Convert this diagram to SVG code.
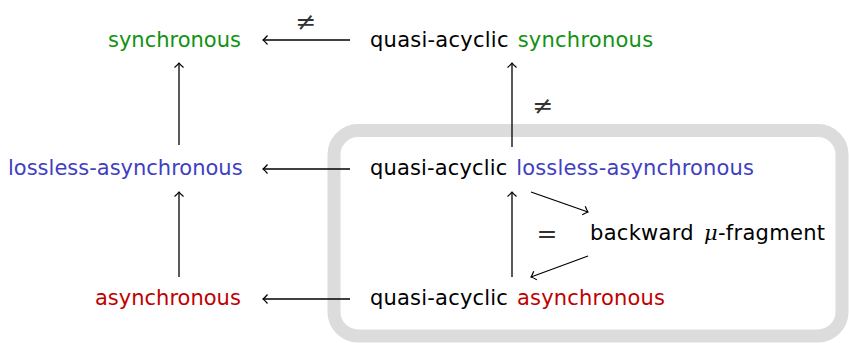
<svg xmlns="http://www.w3.org/2000/svg" width="849" height="343" viewBox="0 0 849 343">
<defs>
<style>
text{font-family:"DejaVu Sans","Liberation Sans",sans-serif;font-size:21px;fill:#000}
.g{fill:#129112}
.b{fill:#4040bf}
.r{fill:#c00000}
.m{font-family:"DejaVu Serif","Liberation Serif",serif;font-size:25px;fill:#333}
.e{stroke:#000;stroke-width:1.3;fill:none;marker-end:url(#ah)}
</style>
<marker id="ah" markerWidth="12" markerHeight="12" viewBox="-6 -6 12 12" refX="0" refY="0" orient="auto" markerUnits="userSpaceOnUse">
<path d="M-4.5,-4.5 Q-1.5,-1 0,0 Q-1.5,1 -4.5,4.5" fill="none" stroke="#000" stroke-width="1.2"/>
</marker>
</defs>
<rect x="334" y="130.5" width="508" height="205.5" rx="24" fill="#fff" stroke="#dcdcdc" stroke-width="13"/>
<g id="n-sync"><text x="108" y="47"><tspan class="g">synchronous</tspan></text></g>
<g id="n-qsync"><text x="370" y="47" word-spacing="2" letter-spacing="0.25">quasi-acyclic <tspan class="g">synchronous</tspan></text></g>
<g id="n-lossless"><text x="8" y="175"><tspan class="b">lossless-asynchronous</tspan></text></g>
<g id="n-qlossless"><text x="370" y="175" word-spacing="2" letter-spacing="0.15">quasi-acyclic <tspan class="b">lossless-asynchronous</tspan></text></g>
<g id="n-async"><text x="95" y="305"><tspan class="r">asynchronous</tspan></text></g>
<g id="n-qasync"><text x="370" y="305" word-spacing="2" letter-spacing="0.2">quasi-acyclic <tspan class="r">asynchronous</tspan></text></g>
<g id="n-mu"><text x="590" y="240" word-spacing="3" letter-spacing="0.3">backward <tspan font-family="DejaVu Serif,Liberation Serif,serif" font-style="italic">μ</tspan>-fragment</text></g>
<g id="connectors">
<line class="e" x1="350" y1="40" x2="263" y2="40"/>
<line class="e" x1="350" y1="169" x2="263" y2="169"/>
<line class="e" x1="350" y1="299" x2="263" y2="299"/>
<line class="e" x1="179" y1="145" x2="179" y2="63"/>
<line class="e" x1="179" y1="277" x2="179" y2="192"/>
<line class="e" x1="512" y1="147" x2="512" y2="63"/>
<line class="e" x1="512" y1="277" x2="512" y2="192"/>
<line class="e" x1="531" y1="192" x2="588" y2="212"/>
<line class="e" x1="588" y1="256" x2="531" y2="277"/>
<text class="m" x="306" y="30" text-anchor="middle">≠</text>
<text class="m" x="543" y="114" text-anchor="middle">≠</text>
<text class="m" x="547" y="242" text-anchor="middle">=</text>
</g>
</svg>
